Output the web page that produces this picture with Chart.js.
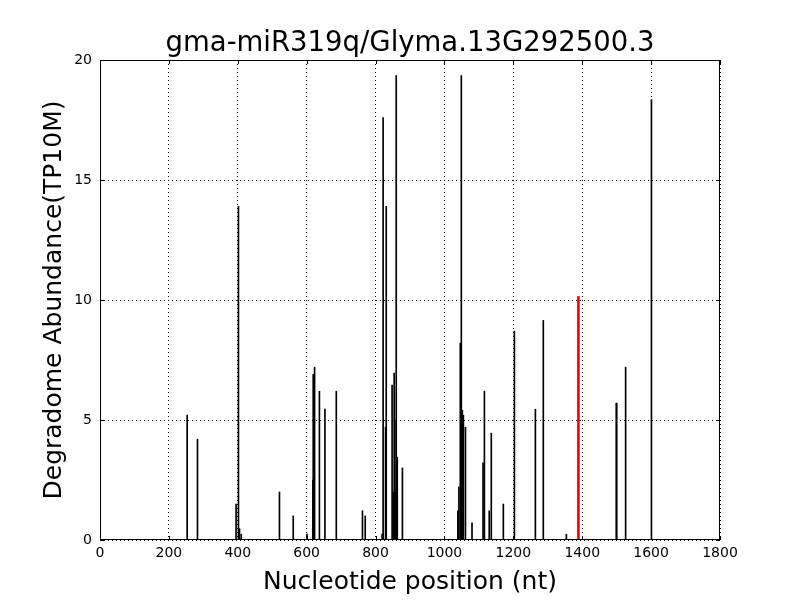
<!DOCTYPE html>
<html>
<head>
<meta charset="utf-8">
<script src="https://cdn.jsdelivr.net/npm/chart.js@4/dist/chart.umd.min.js"></script>
<style>
  body { margin: 0; background: #fff; }
  canvas { display: block; }
</style>
</head>
<body>
<canvas id="degradomeChart" width="800" height="600"></canvas>
<script>
const titleText = 'gma-miR319q/Glyma.13G292500.3';

// nucleotide positions and abundance
const positions = [253, 283, 395, 402, 405, 410, 521, 561, 601, 618, 619, 623, 637, 653, 686,
    762, 770, 819, 822, 829, 831, 848, 851, 854, 856, 858, 860, 863, 878,
    1039, 1042, 1046, 1049, 1052, 1055, 1061, 1080, 1112, 1116, 1130, 1136, 1171, 1203,
    1264, 1287, 1354, 1499, 1500, 1526, 1601];
const abundance = [5.2, 4.2, 1.5, 13.9, 0.47, 0.24, 2.0, 1.0, 0.25, 2.5, 6.9, 7.2, 6.2, 5.45, 6.2,
    1.22, 1.0, 0.25, 17.6, 4.7, 13.9, 6.45, 2.0, 6.95, 5.0, 2.0, 19.35, 3.45, 3.0,
    1.22, 2.22, 8.2, 19.35, 5.4, 5.2, 4.7, 0.72, 3.22, 6.2, 1.22, 4.45, 1.5, 8.7,
    5.45, 9.15, 0.24, 5.7, 5.7, 7.2, 18.35];

// predicted cleavage site (red)
const sitePositions = [1389];
const siteAbundance = [10.15];

const xTicks = [0, 200, 400, 600, 800, 1000, 1200, 1400, 1600, 1800];
const yTicks = [0, 5, 10, 15, 20];

// matplotlib-style box with inward tick marks
const frameBox = {
    id: 'frameBox',
    afterDraw(chart) {
        const a = chart.chartArea;
        const ctx = chart.ctx;
        const xs = chart.scales.x, ys = chart.scales.y;
        ctx.save();
        ctx.strokeStyle = '#000';
        ctx.lineWidth = 1;
        ctx.strokeRect(a.left + 0.5, a.top + 0.5, a.right - a.left - 1, a.bottom - a.top - 1);
        ctx.beginPath();
        xTicks.forEach(v => {
            const px = Math.round(xs.getPixelForValue(v)) + 0.5;
            ctx.moveTo(px, a.bottom); ctx.lineTo(px, a.bottom - 4);
            ctx.moveTo(px, a.top); ctx.lineTo(px, a.top + 4);
        });
        yTicks.forEach(v => {
            const py = Math.round(ys.getPixelForValue(v)) + 0.5;
            ctx.moveTo(a.left, py); ctx.lineTo(a.left + 4, py);
            ctx.moveTo(a.right, py); ctx.lineTo(a.right - 4, py);
        });
        ctx.stroke();
        ctx.restore();
    }
};

new Chart(document.getElementById('degradomeChart'), {
    type: 'bar',
    data: {
        datasets: [{
            data: positions.map((p, i) => ({ x: p, y: abundance[i] })),
            backgroundColor: '#000',
            barThickness: 1,
            grouped: false
        }, {
            data: sitePositions.map((p, i) => ({ x: p, y: siteAbundance[i] })),
            backgroundColor: '#ff0000',
            barThickness: 2,
            grouped: false
        }]
    },
    options: {
        responsive: false,
        animation: false,
        layout: { padding: { left: 20, right: 0, top: 0, bottom: 0 } },
        plugins: {
            legend: { display: false },
            tooltip: { enabled: false },
            title: {
                display: true,
                text: titleText,
                color: '#000',
                font: { family: 'DejaVu Sans', size: 27.5, weight: 'normal', lineHeight: 1.2 },
                padding: { top: 27, bottom: 0 }
            }
        },
        scales: {
            x: {
                type: 'linear',
                min: 0,
                max: 1800,
                offset: false,
                afterBuildTicks: s => { s.ticks = xTicks.map(v => ({ value: v })); },
                afterFit: s => { s.height = 60; },
                ticks: {
                    color: '#000', font: { family: 'DejaVu Sans', size: 14 }, padding: 5, maxRotation: 0,
                    callback: v => String(v)
                },
                grid: { color: '#000', lineWidth: 1, drawTicks: false, offset: false },
                border: { display: false, dash: [1, 3] },
                title: {
                    display: true,
                    text: 'Nucleotide position (nt)',
                    color: '#000',
                    font: { family: 'DejaVu Sans', size: 25 },
                    padding: { top: 0, bottom: 3 }
                }
            },
            y: {
                min: 0,
                max: 20,
                afterBuildTicks: s => { s.ticks = yTicks.map(v => ({ value: v })); },
                afterFit: s => { s.width = 80; },
                ticks: {
                    color: '#000', font: { family: 'DejaVu Sans', size: 14 }, padding: 8,
                    callback: v => String(v)
                },
                grid: { color: '#000', lineWidth: 1, drawTicks: false },
                border: { display: false, dash: [1, 3] },
                title: {
                    display: true,
                    text: 'Degradome Abundance(TP10M)',
                    color: '#000',
                    font: { family: 'DejaVu Sans', size: 25 },
                    padding: { top: 19, bottom: 0 }
                }
            },
            yRight: {
                position: 'right',
                display: true,
                afterFit: s => { s.width = 80; },
                ticks: { display: false },
                grid: { display: false, drawTicks: false },
                border: { display: false }
            }
        }
    },
    plugins: [frameBox]
});
</script>
</body>
</html>
